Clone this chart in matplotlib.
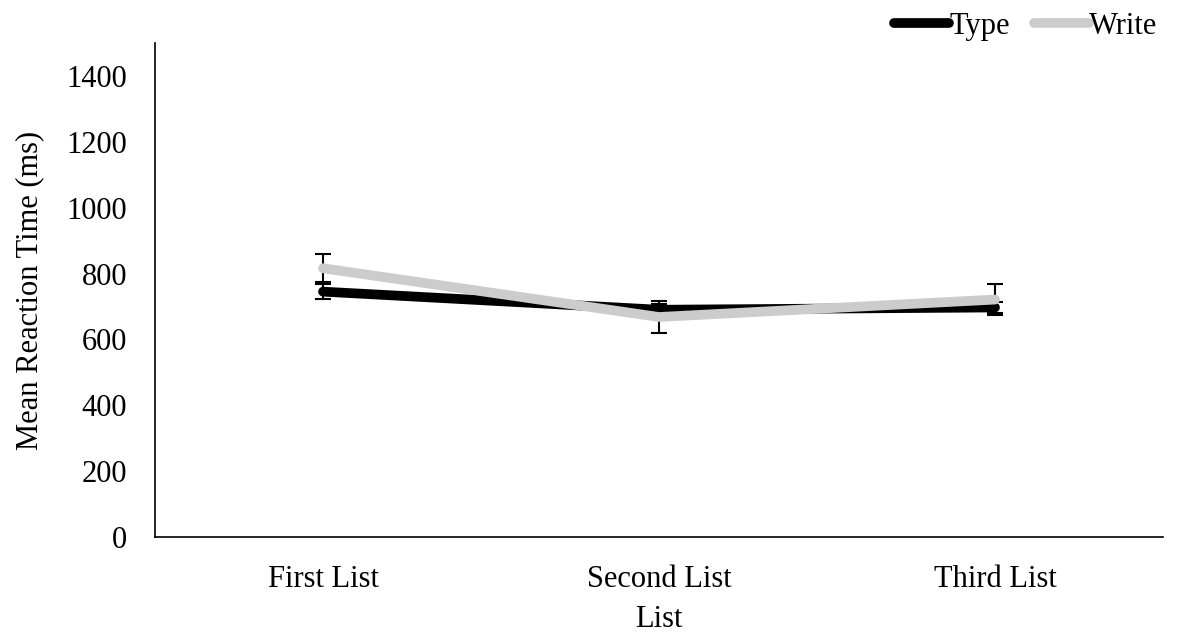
import matplotlib
matplotlib.use("Agg")
import matplotlib.pyplot as plt
import numpy as np

categories = ["First List", "Second List", "Third List"]
type_rt = [745, 690, 697]
type_err = [22, 18, 16]
write_rt = [816, 668, 721]
write_err = [43, 50, 48]

plt.rcParams["font.family"] = ["Liberation Serif", "DejaVu Serif"]
FS = 22

fig = plt.figure(figsize=(11.79, 6.32), dpi=100)
ax = fig.add_axes([155 / 1179, 1 - 537 / 632, (1163 - 155) / 1179, (537 - 43) / 632])

x = np.arange(len(categories))

ax.errorbar(x, type_rt, yerr=type_err, color="black", lw=7, ecolor="black",
            elinewidth=1.5, capsize=6, capthick=1.5, label="Type", zorder=3,
            solid_capstyle="round")
ax.errorbar(x, write_rt, yerr=write_err, color="#cccccc", lw=7, ecolor="black",
            elinewidth=1.5, capsize=6, capthick=1.5, label="Write", zorder=4,
            solid_capstyle="round")

ax.set_xlim(-0.5, 2.5)
ax.set_ylim(0, 1500)
ax.set_yticks(np.arange(0, 1401, 200))
ax.set_xticks(x)
ax.set_xticklabels(categories)
ax.tick_params(axis="both", length=0, labelsize=FS)
ax.tick_params(axis="y", pad=20)
ax.tick_params(axis="x", pad=20)

for side in ["top", "right"]:
    ax.spines[side].set_visible(False)
for side in ["left", "bottom"]:
    ax.spines[side].set_linewidth(1.2)

ax.set_xlabel("List", fontsize=FS, labelpad=8)
ax.set_ylabel("Mean Reaction Time (ms)", fontsize=FS, labelpad=16)

handles, labels = ax.get_legend_handles_labels()
handles = [h[0] for h in handles]
leg = fig.legend(handles, labels, loc="upper right", bbox_to_anchor=(1.005, 1.025),
                 ncol=2, frameon=False, fontsize=FS, handlelength=1.8,
                 handletextpad=0.0, columnspacing=0.8)

fig.savefig("out.png", dpi=100)
